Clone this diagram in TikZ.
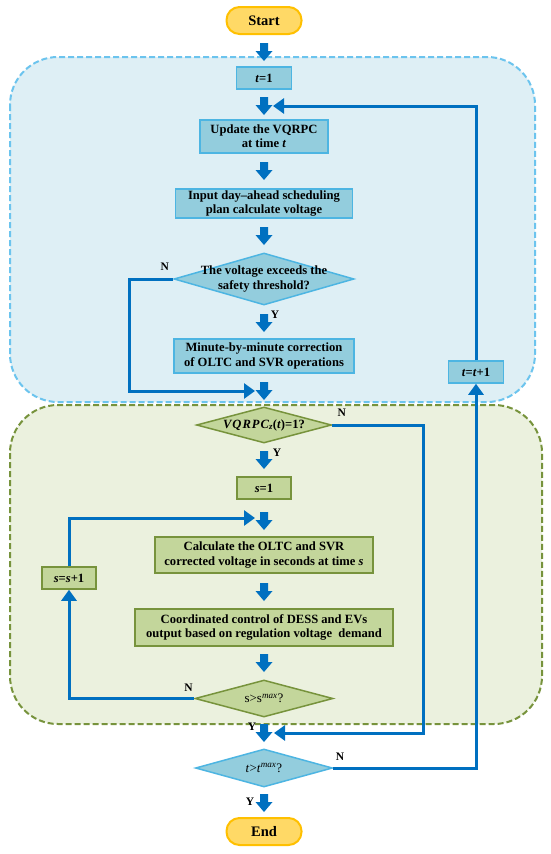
\documentclass[tikz,border=0pt]{standalone}
\usepackage{fontspec}
\setmainfont{Liberation Serif}
\usetikzlibrary{shapes.geometric,arrows.meta}
\definecolor{arrowblue}{HTML}{0070C0}
\definecolor{bluereg}{HTML}{DEEFF5}
\definecolor{blueregline}{HTML}{6CC4EE}
\definecolor{greenreg}{HTML}{EBF1DE}
\definecolor{greenregline}{HTML}{77933C}
\definecolor{boxblue}{HTML}{93CDDD}
\definecolor{boxblueline}{HTML}{4DB5E2}
\definecolor{boxgreen}{HTML}{C3D69B}
\definecolor{boxgreenline}{HTML}{77933C}
\definecolor{termfill}{HTML}{FFD966}
\definecolor{termline}{HTML}{FFC000}
\begin{document}
\begin{tikzpicture}[x=1pt,y=-1pt,
  every node/.style={font=\fontsize{12.6}{14.2}\selectfont\bfseries, align=center, inner sep=0pt},
  bbox/.style={draw=boxblueline, fill=boxblue, line width=1.5pt, rectangle},
  gbox/.style={draw=boxgreenline, fill=boxgreen, line width=1.5pt, rectangle},
  bdia/.style={draw=boxblueline, fill=boxblue, line width=1.5pt, diamond},
  gdia/.style={draw=boxgreenline, fill=boxgreen, line width=1.5pt, diamond},
  term/.style={draw=termline, fill=termfill, line width=2pt, rounded corners=13pt, font=\fontsize{14.5}{16}\selectfont\bfseries},
  conn/.style={draw=arrowblue, line width=3pt},
  tip/.style={-{Triangle[length=11pt,width=15pt]}},
  yn/.style={font=\fontsize{11.5}{13}\selectfont\bfseries},
  region/.style={dashed, dash pattern=on 6pt off 3pt, line width=2pt, rounded corners=48pt},
  barrow/.pic={\fill[arrowblue] (-4,0) -- (4,0) -- (4,8) -- (8.5,8) -- (0,18) -- (-8.5,8) -- (-4,8) -- cycle;}
]
\useasboundingbox (0,0) rectangle (550,854);
\fill[white] (0,0) rectangle (550,854);
% regions
\draw[region, draw=blueregline, fill=bluereg] (10,57) rectangle (535,402);
\draw[region, draw=greenregline, fill=greenreg] (10,405) rectangle (542,724);

% nodes
\node[term, minimum width=75pt, minimum height=27pt] (start) at (264,20.5) {Start};
\node[bbox, minimum width=55pt, minimum height=22pt] (t1) at (264,78) {\textit{t}=1};
\node[bbox, minimum width=128pt, minimum height=33pt] (upd) at (264,136.5) {Update the VQRPC\\at time \textit{t}};
\node[bbox, minimum width=177pt, minimum height=29pt] (inp) at (264,203.5) {Input day–ahead scheduling\\plan calculate voltage};
\node[bdia, minimum width=180pt, minimum height=52pt] (d1) at (264,279) {};
\node (d1t) at (d1) {The voltage exceeds the\\safety threshold?};
\node[bbox, minimum width=180pt, minimum height=34pt] (minute) at (264,356) {Minute-by-minute correction\\of OLTC and SVR operations};
\node[bbox, minimum width=55pt, minimum height=22pt] (tt) at (476,372) {\textit{t}=\textit{t}+1};
\node[gdia, minimum width=135pt, minimum height=36pt] (d2) at (264,425) {};
\node (d2t) at (d2) {{\itshape V\kern1pt Q\kern1pt R\kern1pt P\kern1pt C\textsubscript{z}}(\textit{t})=1?};
\node[gbox, minimum width=54pt, minimum height=22pt] (s1) at (264,488) {\textit{s}=1};
\node[gbox, minimum width=218pt, minimum height=36pt] (calc) at (264,555) {Calculate the OLTC and SVR\\corrected voltage in seconds at time \textit{s}};
\node[gbox, minimum width=54pt, minimum height=22pt] (ss) at (69,578) {\textit{s}=\textit{s}+1};
\node[gbox, minimum width=258pt, minimum height=37pt] (coord) at (264,627.5) {Coordinated control of DESS and EVs\\output based on regulation voltage\ \ demand};
\node[gdia, minimum width=138pt, minimum height=37pt] (d3) at (264,698.5) {};
\node[font=\fontsize{13}{14}\selectfont] (d3t) at (d3) {s>s\textsuperscript{\textit{max}}?};
\node[bdia, minimum width=137pt, minimum height=38pt] (d4) at (264,768) {};
\node[font=\fontsize{13}{14}\selectfont] (d4t) at (d4) {\textit{t}>\textit{t}\textsuperscript{\textit{max}}?};
\node[term, minimum width=75pt, minimum height=27pt] (end) at (264,831.5) {End};

% block arrows
\foreach \yy in {43,97,162,227,314,382,451,512,583,654,724,794}
  \pic at (264,\yy) {barrow};

% connectors
\coordinate (fbin) at (273,106);
\draw[conn,tip] (tt.north) |- (fbin);
\draw[conn,tip] (d4.east) -| (tt.south);
\coordinate (n1in) at (255,391);
\draw[conn,tip] (d1.west) -- ++(-44,0) |- (n1in);
\coordinate (n2in) at (274,733);
\draw[conn,tip] (d2.east) -- ++(91.5,0) |- (n2in);
\coordinate (sloop) at (255,518);
\draw[conn,tip] (d3.west) -| (ss.south);
\draw[conn,tip] (ss.north) |- (sloop);

% labels
\node[yn] (n1) at (164.7,267) {N};
\node[yn] (y1) at (275,315) {Y};
\node[yn] (n2) at (341.7,413) {N};
\node[yn] (y2) at (277,453) {Y};
\node[yn] (n3) at (188.6,688) {N};
\node[yn] (y3) at (252,727) {Y};
\node[yn] (n4) at (340,757) {N};
\node[yn] (y4) at (250,802) {Y};
\end{tikzpicture}
\end{document}
